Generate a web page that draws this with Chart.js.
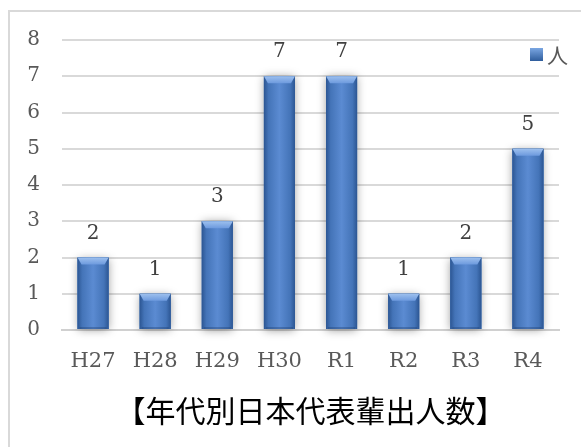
<!DOCTYPE html>
<html>
<head>
<meta charset="utf-8">
<script src="https://cdn.jsdelivr.net/npm/chart.js@4"></script>
<style>
  html, body { margin: 0; padding: 0; background: #fff; }
  #wrap { position: relative; width: 581px; height: 447px; overflow: hidden; }
  #frame { position: absolute; left: 8px; top: 10px; width: 600px; height: 460px;
           border: 2px solid #d9d9d9; box-sizing: border-box; }
  #c { position: absolute; left: 0; top: 0; }
</style>
</head>
<body>
<div id="wrap">
  <div id="frame"></div>
  <canvas id="c" width="581" height="447"></canvas>
</div>
<script>
// 年代ごとの人数
const years = ['H27', 'H28', 'H29', 'H30', 'R1', 'R2', 'R3', 'R4'];
const counts = [2, 1, 3, 7, 7, 1, 2, 5];
const yTicks = [0, 1, 2, 3, 4, 5, 6, 7, 8];
const seriesName = '人';
const titleText = '【年代別日本代表輩出人数】';

const serif = '"DejaVu Serif", "Liberation Serif", serif';
const jp = '"Noto Sans CJK JP", sans-serif';

// 棒の立体風の塗り（影・横グラデーション・上面の面取り）
const bevelBars = {
  id: 'bevelBars',
  beforeDatasetsDraw(chart) {
    const ctx = chart.ctx;
    ctx.save();
    ctx.shadowColor = 'rgba(0,0,0,0.4)';
    ctx.shadowBlur = 9;
    ctx.shadowOffsetX = 0;
    ctx.shadowOffsetY = 1;
    ctx.fillStyle = '#3b6cb0';
    for (const bar of chart.getDatasetMeta(0).data) {
      const w = bar.width;
      ctx.fillRect(bar.x - w / 2, bar.y, w, bar.base - bar.y);
    }
    ctx.restore();
  },
  afterDatasetsDraw(chart) {
    const ctx = chart.ctx;
    ctx.save();
    for (const bar of chart.getDatasetMeta(0).data) {
      const w = bar.width;
      const l = bar.x - w / 2, r = bar.x + w / 2;
      const top = bar.y, bottom = bar.base;
      const g = ctx.createLinearGradient(l, 0, r, 0);
      g.addColorStop(0, '#2c5693');
      g.addColorStop(0.15, '#4474b8');
      g.addColorStop(0.5, '#5b8bd2');
      g.addColorStop(0.85, '#4474b8');
      g.addColorStop(1, '#2c5693');
      ctx.fillStyle = g;
      ctx.fillRect(l, top, w, bottom - top);
      // 上面の面取り
      const bv = 7;
      const gt = ctx.createLinearGradient(0, top, 0, top + bv);
      gt.addColorStop(0, '#9dc0ee');
      gt.addColorStop(1, '#6d9ade');
      ctx.fillStyle = gt;
      ctx.beginPath();
      ctx.moveTo(l, top);
      ctx.lineTo(r, top);
      ctx.lineTo(r - 4, top + bv);
      ctx.lineTo(l + 4, top + bv);
      ctx.closePath();
      ctx.fill();
      // 下端の薄い面取り
      ctx.fillStyle = 'rgba(30,60,110,0.35)';
      ctx.fillRect(l + 2, bottom - 2, w - 4, 2);
    }
    ctx.restore();
  }
};

// 棒の上の数値
const valueLabels = {
  id: 'valueLabels',
  afterDatasetsDraw(chart) {
    const ctx = chart.ctx;
    const meta = chart.getDatasetMeta(0);
    ctx.save();
    ctx.font = '20px ' + serif;
    ctx.fillStyle = '#404040';
    ctx.textAlign = 'center';
    ctx.textBaseline = 'middle';
    meta.data.forEach((bar, i) => {
      ctx.fillText(String(counts[i]), bar.x, bar.y - 24);
    });
    ctx.restore();
  }
};

// 右上の凡例と、プロット領域の中央に揃えた下のタイトル
const cornerLegend = {
  id: 'cornerLegend',
  afterDraw(chart) {
    const ctx = chart.ctx;
    const a = chart.chartArea;
    const x = a.right - 29, y = a.top + 8;
    ctx.save();
    const g = ctx.createLinearGradient(x, y, x, y + 13);
    g.addColorStop(0, '#7aa6e2');
    g.addColorStop(1, '#2f5d9c');
    ctx.fillStyle = g;
    ctx.fillRect(x, y, 13, 13);
    ctx.font = '21px ' + jp;
    ctx.fillStyle = '#595959';
    ctx.textBaseline = 'middle';
    ctx.fillText(chart.data.datasets[0].label, x + 17, y + 7);

    ctx.font = '30px ' + jp;
    ctx.fillStyle = '#000';
    ctx.textAlign = 'center';
    ctx.fillText(titleText, (a.left + a.right) / 2, a.bottom + 81);
    ctx.restore();
  }
};

new Chart(document.getElementById('c'), {
  type: 'bar',
  data: {
    labels: years,
    datasets: [{
      label: seriesName,
      data: counts,
      backgroundColor: '#4a7cc0',
      borderWidth: 0,
      barPercentage: 0.5,
      categoryPercentage: 1.0
    }]
  },
  options: {
    responsive: false,
    animation: false,
    layout: { padding: { top: 40, right: 22, left: 0, bottom: 65 } },
    plugins: {
      legend: { display: false },
      tooltip: { enabled: false },
      title: { display: false }
    },
    scales: {
      x: {
        grid: { display: false, drawTicks: false },
        border: { display: true, color: '#d0d0d0', width: 2 },
        ticks: { color: '#595959', font: { family: serif, size: 21 }, padding: 19 },
        afterFit(s) { s.height = 52; }
      },
      y: {
        min: 0,
        max: 8,
        afterBuildTicks(s) { s.ticks = yTicks.map(v => ({ value: v })); },
        grid: { color: '#d9d9d9', lineWidth: 2, drawTicks: false },
        border: { display: false },
        ticks: { color: '#595959', font: { family: serif, size: 20 }, padding: 22 },
        afterFit(s) { s.width = 62; }
      }
    }
  },
  plugins: [bevelBars, valueLabels, cornerLegend]
});
</script>
</body>
</html>
